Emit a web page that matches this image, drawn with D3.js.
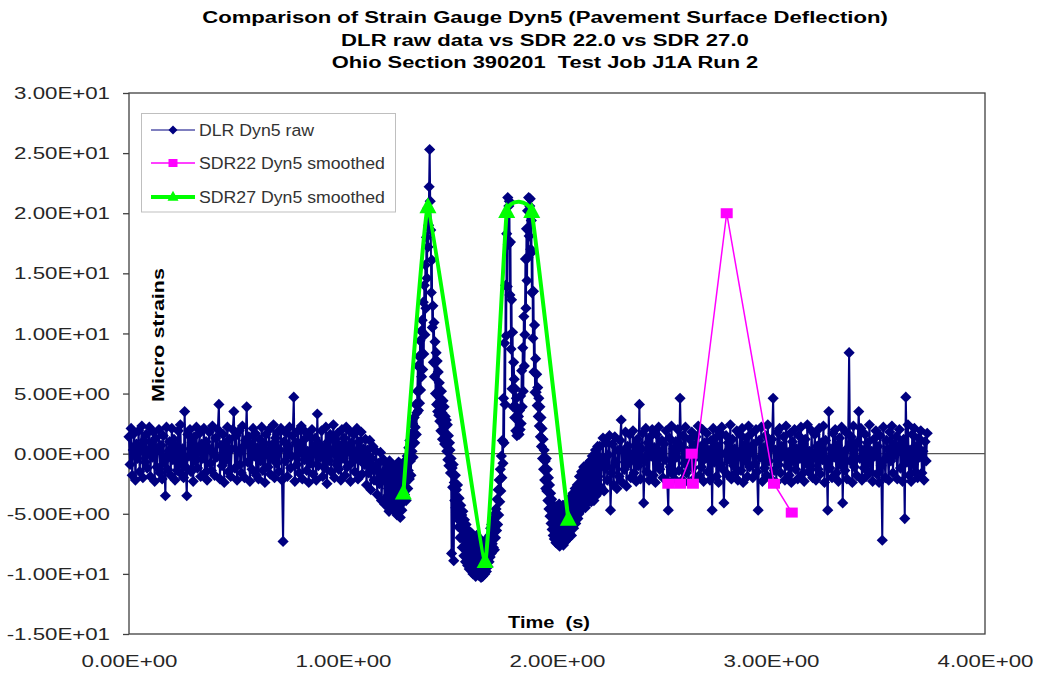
<!DOCTYPE html>
<html><head><meta charset="utf-8">
<script src="https://cdn.jsdelivr.net/npm/d3@7"></script>
<style>
body{margin:0;background:#fff;}
svg{display:block;font-family:Arial,"Liberation Sans",sans-serif;}
</style>
</head><body>
<svg id="chart" width="1037" height="674"></svg>
<script>
// ---------------- data ----------------
const titleLines = [
  "Comparison of Strain Gauge Dyn5 (Pavement Surface Deflection)",
  "DLR raw data vs SDR 22.0 vs SDR 27.0",
  "Ohio Section 390201  Test Job J1A Run 2"
];
const xAxisTitle = "Time  (s)";
const yAxisTitle = "Micro strains";
const seriesNames = ["DLR Dyn5 raw", "SDR22 Dyn5 smoothed", "SDR27 Dyn5 smoothed"];
const xTicks = [0, 1, 2, 3, 4];
const yTicks = [-15, -10, -5, 0, 5, 10, 15, 20, 25, 30];

// DLR raw, before the load (t = 0.000 .. 1.195 s, every 0.005 s)
const dlrPreStart = 0.0, dlrPreStep = 0.005;
const dlrPre = [
  1.4,-0.9,2.1,-1.8,0.3,1.7,-2.2,0.8,-0.4,1.9,
  -1.5,0.6,2.3,-2.0,1.1,-0.7,1.6,-1.2,0.1,2.2,
  -1.9,0.9,-0.3,1.8,-2.3,1.3,-1.1,0.4,2.0,-1.6,
  0.7,-2.1,1.5,-0.6,-3.5,2.2,-1.3,0.2,1.0,-1.8,
  2.1,-0.5,1.2,-2.2,0.6,-1.4,1.9,-0.9,2.4,-1.7,
  0.4,-2.0,3.5,-1.1,-3.5,1.6,-0.2,2.0,-1.5,0.9,
  -2.3,1.4,-0.6,2.2,-1.2,0.3,1.7,-1.9,0.8,-0.4,
  2.1,-1.6,1.0,-2.2,0.5,1.8,-0.8,-1.4,2.3,0.1,
  -1.8,1.3,-0.3,2.0,4.1,-2.1,0.7,-1.0,1.6,-2.4,
  0.9,-0.5,2.2,-1.5,1.2,-1.9,0.4,2.0,3.5,-1.2,
  1.5,-2.2,0.2,1.9,-0.9,-1.6,2.3,0.6,-2.0,1.1,
  3.9,-0.7,1.4,-2.3,0.8,-1.3,2.1,-0.2,1.7,-1.8,
  0.5,-2.1,1.2,-0.6,2.2,-1.4,0.9,-2.4,1.6,0.0,
  -1.1,2.0,-1.7,0.7,-0.4,2.4,-2.0,1.3,-0.8,1.8,
  -1.5,0.3,2.1,-2.2,-7.3,1.0,-0.6,1.7,-1.9,0.6,
  2.2,-1.2,-0.2,1.5,4.7,-2.3,0.9,-0.9,1.9,-1.6,
  0.4,2.3,-2.1,1.1,-0.5,1.8,-1.4,0.2,-2.4,1.4,
  -0.8,2.0,-1.7,0.6,1.3,-2.2,3.3,-1.0,0.8,-0.3,
  1.9,-1.9,0.5,-1.2,2.2,-2.5,1.0,-0.6,1.6,-1.5,
  0.2,2.4,-2.0,1.2,-0.9,1.7,-1.3,0.7,-2.2,2.0,
  -0.4,1.3,-1.8,2.2,-1.1,0.5,1.9,-2.3,0.9,-0.7,
  1.6,-1.5,0.1,2.1,-2.1,1.0,-0.5,1.8,-1.7,0.4,
  -0.9,1.2,-2.6,0.3,-1.6,1.1,-3.0,-0.4,0.6,-2.2,
  -1.3,0.2,-3.4,-0.8,-2.5,0.1,-3.9,-1.6,-0.5,-4.2
];
// DLR raw, axles passing (t = 1.2000 .. 2.1975 s, every 0.0025 s)
const dlrEventStart = 1.2, dlrEventStep = 0.0025;
const dlrEvent = [
  -0.8,-3.6,-2.1,-4.4,-1.3,-2.9,-4.8,-0.6,-3.3,-1.8,-4.1,-2.5,-0.9,-3.9,-1.6,-4.6,-2.8,-1.1,-3.5,-4.9,
  -2.2,-5.1,-1.4,-3.7,-0.7,-4.4,-2.6,-5.3,-1.9,-3.2,-4.7,-1.0,-2.9,-4.0,-1.5,-3.4,-0.6,-2.4,-3.9,-1.2,
  -0.2,-2.9,-1.4,0.5,-2.1,1.1,-0.6,-1.8,1.7,0.2,2.5,-0.3,1.4,3.0,0.9,2.2,4.1,1.6,3.4,5.2,
  7.3,3.6,8.1,4.2,9.4,5.3,10.2,6.4,11.1,7.0,12.6,8.3,14.0,9.9,15.7,12.1,18.0,14.6,20.4,17.2,
  19.0,22.2,25.3,21.0,18.6,13.4,16.1,10.5,12.3,7.6,10.9,6.4,9.3,5.0,8.4,4.1,7.7,3.5,6.8,3.2,
  5.9,2.7,4.6,1.9,5.2,3.4,1.2,4.4,2.3,3.9,0.8,3.1,1.6,2.8,0.2,2.4,-0.5,1.5,-1.0,0.9,
  0.3,-1.6,-0.4,-8.3,-1.2,-2.8,-0.9,-8.9,-2.4,-3.9,-1.8,-4.5,-3.0,-5.2,-2.6,-4.8,-6.1,-3.7,-5.6,-7.0,
  -4.3,-6.9,-5.1,-7.8,-4.8,-6.4,-8.5,-5.5,-7.2,-9.0,-5.9,-7.7,-6.3,-9.3,-6.7,-8.2,-9.6,-6.5,-8.8,-7.4,
  -6.6,-9.1,-7.5,-10.0,-6.9,-8.4,-9.7,-7.2,-10.2,-8.0,-6.8,-9.4,-7.8,-10.1,-7.0,-8.7,-9.9,-7.4,-10.3,-8.3,
  -7.7,-10.2,-8.5,-9.6,-7.3,-10.0,-8.9,-7.9,-9.8,-8.1,-7.1,-9.4,-7.6,-9.0,-6.8,-8.6,-6.2,-8.3,-5.9,-7.5,
  -5.5,-7.8,-6.1,-8.0,-5.0,-7.0,-4.6,-6.4,-3.8,-5.9,-3.0,-5.1,-2.2,-4.0,-1.3,-3.1,-0.2,-2.0,1.1,-0.8,
  4.6,0.9,9.2,4.1,14.0,9.8,18.3,13.9,21.3,17.4,20.6,21.0,13.2,17.6,8.7,12.8,5.4,10.1,3.9,7.6,
  6.2,3.0,5.4,1.9,4.6,1.5,3.8,1.7,3.1,1.6,3.6,2.0,4.8,2.5,6.9,3.9,8.8,5.2,11.4,7.3,
  9.9,16.2,12.1,18.7,14.4,20.2,16.3,21.3,18.1,20.6,21.2,17.0,19.4,13.4,16.8,9.6,13.5,6.8,10.7,5.1,
  7.9,5.1,6.6,4.0,5.5,3.1,4.6,2.3,3.9,1.4,3.0,0.6,2.1,-0.4,1.2,-1.3,0.3,-2.2,-0.6,-2.9,
  -0.4,-3.1,-1.3,-3.9,-2.0,-4.6,-2.6,-5.2,-3.3,-5.8,-3.8,-6.3,-4.2,-6.8,-4.5,-7.1,-4.9,-6.0,-7.4,-5.3,
  -4.4,-7.5,-5.4,-6.7,-4.2,-7.7,-5.9,-4.8,-7.0,-5.2,-6.3,-4.3,-7.6,-5.6,-6.9,-4.6,-7.3,-5.0,-6.5,-4.5,
  -7.1,-5.3,-3.9,-6.6,-4.8,-6.0,-3.6,-6.8,-4.4,-5.5,-3.3,-6.2,-4.1,-5.0,-2.9,-5.8,-3.7,-4.6,-2.6,-5.4,
  -3.2,-5.0,-1.9,-4.2,-2.7,-4.7,-1.5,-3.6,-4.4,-2.2,-1.1,-3.9,-2.9,-4.5,-1.7,-3.3,-0.9,-4.1,-2.4,-3.0,
  -1.3,-3.7,-0.6,-2.8,-4.0,-1.8,-0.2,-3.3,-2.1,-3.9,-0.8,-2.5,0.3,-3.5,-1.5,-2.9,0.6,-1.9,-3.2,-0.5
];
// DLR raw, after the load (t = 2.200 .. 3.730 s, every 0.005 s)
const dlrPostStart = 2.2, dlrPostStep = 0.005;
const dlrPost = [
  0.6,-2.8,-0.4,1.3,-3.1,-1.2,0.9,-2.2,-0.1,1.5,
  -4.7,-1.6,0.8,-2.6,1.4,-0.7,-2.9,0.3,-1.9,1.1,
  2.8,-2.4,0.2,-1.3,1.8,-2.7,0.6,-0.8,1.6,-2.0,
  -0.3,1.9,-1.6,0.7,-2.3,1.2,-1.0,4.1,-2.1,0.4,
  1.7,-4.1,-0.6,2.1,-1.5,0.9,-2.2,1.4,-0.2,2.0,
  -1.8,0.5,-2.4,1.6,-0.9,2.2,-1.3,0.1,1.1,-2.0,
  0.8,-0.5,1.9,-2.3,-4.7,1.3,-1.1,2.3,-1.7,0.4,
  -2.1,1.0,-0.3,2.0,-1.4,4.6,0.6,-2.2,1.5,-0.8,
  2.2,-1.6,0.2,-2.4,1.2,-0.6,1.8,-1.2,0.7,-2.0,
  1.4,-0.2,2.3,-1.8,0.5,-1.1,2.0,-2.3,0.9,-0.4,
  1.7,-1.5,0.3,-2.2,1.1,-4.7,2.1,-0.7,1.3,-1.9,
  0.6,-2.4,1.8,-0.9,2.2,-1.3,-4.1,0.0,1.5,-1.7,
  0.9,-0.5,2.4,-2.1,1.2,-1.0,0.4,-1.6,1.9,-2.2,
  -0.2,1.6,-1.4,2.1,-2.4,0.7,-0.6,1.3,-1.9,2.3,
  -1.1,0.2,1.7,-2.0,0.8,-0.8,2.0,-1.5,-4.7,1.1,
  -0.3,2.2,-2.3,0.5,-1.2,1.5,-1.8,2.4,-0.6,0.9,
  -2.1,1.2,4.6,-1.4,0.3,-2.4,1.8,-0.9,2.1,-1.6,
  0.6,-0.2,1.4,-2.2,2.3,-1.0,0.1,-1.8,1.7,-2.4,
  1.0,-0.6,2.0,-1.3,0.4,-2.1,1.5,-0.4,2.2,-1.7,
  0.8,-2.3,1.2,-0.8,2.4,-1.5,0.2,-1.0,1.9,-2.0,
  -0.1,1.6,-2.2,0.6,-1.3,2.1,-1.7,0.9,-0.5,2.3,
  -2.4,1.1,-0.7,-4.7,3.5,-1.2,0.4,-2.0,1.7,-0.3,
  2.0,-1.6,0.7,-2.3,1.3,-0.9,2.2,-4.1,0.1,-1.4,
  1.8,-2.1,0.5,8.4,-0.6,1.4,-2.4,2.3,-1.1,0.8,
  -1.8,1.0,3.5,-0.4,2.1,-2.2,0.3,-1.2,1.6,-1.9,
  0.9,-0.8,2.4,-1.5,0.2,-2.3,1.2,-0.2,1.9,-1.7,
  0.6,-2.4,1.5,-1.0,-7.2,2.2,-0.5,-2.0,1.1,0.4,
  -2.2,1.8,-0.6,2.3,-1.6,0.8,-0.1,1.4,-2.1,0.5,
  2.0,-1.2,0.9,-2.3,1.2,-5.4,4.7,-0.7,2.4,-1.8,
  0.3,-2.3,1.6,-0.9,2.1,-1.5,0.6,-2.0,1.3,-0.3,
  1.9,-1.6,0.2,-2.2,1.0,-0.6,1.7
];

const sdr22Time  = [2.520, 2.575, 2.629, 2.635, 2.793, 3.014, 3.097];
const sdr22Value = [-2.5, -2.5, 0.0, -2.5, 20.0, -2.5, -4.9];

const sdr27Time  = [1.282, 1.397, 1.664, 1.765, 1.882, 2.053];
const sdr27Value = [-3.3, 20.5, -9.0, 20.1, 20.1, -5.5];

// ---------------- build series ----------------
const raw = [];
function addSeg(start, step, vals) {
  vals.forEach((v, i) => raw.push({ t: +(start + i * step).toFixed(5), v }));
}
addSeg(dlrPreStart, dlrPreStep, dlrPre);
addSeg(dlrEventStart, dlrEventStep, dlrEvent);
addSeg(dlrPostStart, dlrPostStep, dlrPost);
const sdr22 = sdr22Time.map((t, i) => ({ t, v: sdr22Value[i] }));
const sdr27 = sdr27Time.map((t, i) => ({ t, v: sdr27Value[i] }));

// ---------------- layout ----------------
const W = 1037, H = 674;
const plot = { left: 129, right: 985, top: 93, bottom: 634 };
const C = { raw: "#000080", sdr22: "#FF00FF", sdr27: "#00FF00", frame: "#404040", text: "#262626" };

const svg = d3.select("#chart");
const x = d3.scaleLinear().domain([0, 4]).range([plot.left, plot.right]);
const y = d3.scaleLinear().domain([-15, 30]).range([plot.bottom, plot.top]);

function fmtE(v) {
  const s = v.toExponential(2).toUpperCase();
  const [m, e] = s.split("E");
  const sign = e[0] === "-" ? "-" : "+";
  const d = e.replace(/[+-]/, "").padStart(2, "0");
  return m + "E" + sign + d;
}

function stretch(node, cx, cy, k, rot) {
  d3.select(node).attr("x", 0).attr("y", 0)
    .attr("transform", `translate(${cx},${cy})` + (rot ? ` rotate(${rot})` : "") + ` scale(${k},1)`);
}
function kFor(node, target) { return target / node.getComputedTextLength(); }

svg.append("rect").attr("width", W).attr("height", H).attr("fill", "#fff");

// titles
const titleY = [23, 46, 68];
const titleW = [686, 408, 427];
titleLines.forEach((s, i) => {
  const t = svg.append("text").attr("text-anchor", "middle")
    .attr("font-size", 17).attr("font-weight", "bold").attr("fill", "#000")
    .attr("xml:space", "preserve").text(s);
  stretch(t.node(), 545, titleY[i], kFor(t.node(), titleW[i]));
});

// y axis
const yAxis = svg.append("g").attr("transform", `translate(${plot.left},0)`)
  .call(d3.axisLeft(y).tickValues(yTicks).tickFormat(fmtE).tickSize(6).tickPadding(0));
yAxis.select(".domain").remove();
yAxis.selectAll(".tick line").attr("stroke", C.frame).attr("stroke-width", 1.3);
const yLabels = yAxis.selectAll(".tick text").attr("font-size", 16).attr("fill", C.text)
  .attr("font-family", "Arial, 'Liberation Sans', sans-serif").attr("dy", "0.35em");
const ky = 96 / yLabels.nodes()[yLabels.size() - 1].getComputedTextLength();
yLabels.attr("x", 0).attr("transform", `translate(-19,0) scale(${ky},1)`);

// x axis
const xAxis = svg.append("g").attr("transform", `translate(0,${plot.bottom})`)
  .call(d3.axisBottom(x).tickValues(xTicks).tickFormat(fmtE).tickSize(0).tickPadding(0));
xAxis.select(".domain").remove();
xAxis.selectAll(".tick text").attr("font-size", 16).attr("fill", C.text)
  .attr("font-family", "Arial, 'Liberation Sans', sans-serif").attr("dy", 0)
  .each(function () {
    const k = 96 / this.getComputedTextLength();
    d3.select(this).attr("y", 0).attr("transform", `translate(0,33) scale(${k},1)`);
  });

// plot frame
svg.append("rect").attr("x", plot.left).attr("y", plot.top)
  .attr("width", plot.right - plot.left).attr("height", plot.bottom - plot.top)
  .attr("fill", "none").attr("stroke", C.frame).attr("stroke-width", 1.3);

// zero line
svg.append("line").attr("x1", plot.left).attr("x2", plot.right)
  .attr("y1", y(0)).attr("y2", y(0)).attr("stroke", "#555").attr("stroke-width", 1.4);

// axis titles
const yt = svg.append("text").attr("text-anchor", "middle").attr("font-size", 17)
  .attr("font-weight", "bold").attr("fill", "#000").attr("dy", "0.35em").text(yAxisTitle);
stretch(yt.node(), 158, 335, kFor(yt.node(), 134), -90);
const xt = svg.append("text").attr("text-anchor", "middle").attr("font-size", 17)
  .attr("font-weight", "bold").attr("fill", "#000").attr("dy", "0.35em")
  .attr("xml:space", "preserve").text(xAxisTitle);
stretch(xt.node(), 549, 622, kFor(xt.node(), 82));

// markers
const diamond = s => `M0,${-s}L${s},0L0,${s}L${-s},0Z`;
const square = (w, h) => `M${-w/2},${-h/2}h${w}v${h}h${-w}Z`;
const triangle = (w, h) => `M0,${-h*0.62}L${w/2},${h*0.38}L${-w/2},${h*0.38}Z`;

const g = svg.append("g");
const line = d3.line().x(d => x(d.t)).y(d => y(d.v));

// DLR raw
g.append("path").datum(raw).attr("d", line).attr("fill", "none")
  .attr("stroke", C.raw).attr("stroke-width", 2).attr("stroke-linejoin", "round");
g.append("g").selectAll("path").data(raw).join("path")
  .attr("transform", d => `translate(${x(d.t)},${y(d.v)})`)
  .attr("d", diamond(5.6)).attr("fill", C.raw);

// SDR22
g.append("path").datum(sdr22).attr("d", line).attr("fill", "none")
  .attr("stroke", C.sdr22).attr("stroke-width", 1.5);
g.append("g").selectAll("path").data(sdr22).join("path")
  .attr("transform", d => `translate(${x(d.t)},${y(d.v)})`)
  .attr("d", square(12, 10)).attr("fill", C.sdr22);

// SDR27 (smoothed line)
g.append("path").datum(sdr27)
  .attr("d", d3.line().x(d => x(d.t)).y(d => y(d.v)).curve(d3.curveCardinal.tension(0.75)))
  .attr("fill", "none").attr("stroke", C.sdr27).attr("stroke-width", 4);
g.append("g").selectAll("path").data(sdr27).join("path")
  .attr("transform", d => `translate(${x(d.t)},${y(d.v)})`)
  .attr("d", triangle(17, 16)).attr("fill", C.sdr27);

// legend
const lg = svg.append("g");
lg.append("rect").attr("x", 141.5).attr("y", 113.5).attr("width", 254).attr("height", 98.5)
  .attr("fill", "#fff").attr("stroke", "#bfbfbf").attr("stroke-width", 1);
const rowsY = [130, 163, 197];
const legendStyle = [
  { c: C.raw, w: 1, m: diamond(4.5) },
  { c: C.sdr22, w: 1.5, m: square(9, 8) },
  { c: C.sdr27, w: 4, m: triangle(11, 10) }
];
let kl = null;
seriesNames.forEach((s, i) => {
  const yy = rowsY[i];
  lg.append("line").attr("x1", 151).attr("x2", 195).attr("y1", yy).attr("y2", yy)
    .attr("stroke", legendStyle[i].c).attr("stroke-width", legendStyle[i].w);
  lg.append("path").attr("transform", `translate(173,${yy})`).attr("d", legendStyle[i].m)
    .attr("fill", legendStyle[i].c);
  const t = lg.append("text").attr("font-size", 17).attr("fill", "#333").attr("dy", "0.35em").text(s);
  if (i === 1) kl = kFor(t.node(), 186);
});
lg.selectAll("text").each(function (d, i) {
  stretch(this, 199, rowsY[i], kl);
});
</script>
</body></html>
